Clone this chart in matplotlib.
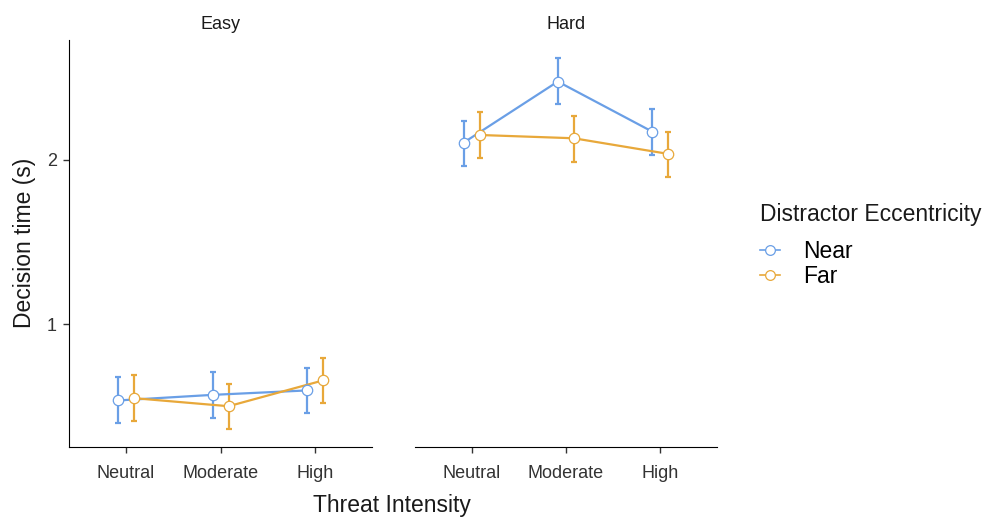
import matplotlib.pyplot as plt
from matplotlib.lines import Line2D
import numpy as np

plt.rcParams['font.family'] = ['Liberation Sans', 'DejaVu Sans']

# data
levels = ["Neutral", "Moderate", "High"]
panels = ["Easy", "Hard"]
groups = ["Near", "Far"]

easy_near = [0.537, 0.571, 0.598]
easy_near_lo = [0.398, 0.429, 0.459]
easy_near_hi = [0.679, 0.709, 0.736]
easy_far = [0.551, 0.502, 0.659]
easy_far_lo = [0.413, 0.362, 0.520]
easy_far_hi = [0.693, 0.638, 0.797]

hard_near = [2.105, 2.477, 2.173]
hard_near_lo = [1.963, 2.340, 2.030]
hard_near_hi = [2.240, 2.620, 2.309]
hard_far = [2.152, 2.132, 2.037]
hard_far_lo = [2.010, 1.990, 1.895]
hard_far_hi = [2.290, 2.268, 2.170]

colors = {"Near": "#6A9FE6", "Far": "#E8A83A"}
dodge = {"Near": -0.085, "Far": 0.085}

data = {
    "Easy": {"Near": (easy_near, easy_near_lo, easy_near_hi),
             "Far": (easy_far, easy_far_lo, easy_far_hi)},
    "Hard": {"Near": (hard_near, hard_near_lo, hard_near_hi),
             "Far": (hard_far, hard_far_lo, hard_far_hi)},
}

fig = plt.figure(figsize=(9.89, 5.19), dpi=100)
ax1 = fig.add_axes([0.0701, 0.1394, 0.3058, 0.7836])
ax2 = fig.add_axes([0.4196, 0.1394, 0.3050, 0.7836])

tick_col = "#333333"
txt_col = "#1a1a1a"
for ax, panel in zip([ax1, ax2], panels):
    x = np.arange(len(levels))
    for g in groups:
        m, lo, hi = data[panel][g]
        m = np.array(m)
        yerr = [m - np.array(lo), np.array(hi) - m]
        xs = x + dodge[g]
        ax.errorbar(xs, m, yerr=yerr, fmt="none", ecolor=colors[g],
                    elinewidth=1.6, capsize=2, capthick=1.6, zorder=2)
        ax.plot(xs, m, color=colors[g], lw=1.6, zorder=3)
        ax.plot(xs, m, "o", ms=7.5, mfc="white", mec=colors[g], mew=0.9, zorder=4)

    ax.set_xlim(-0.6, 2.6)
    ax.set_ylim(0.256, 2.73)
    ax.set_xticks(x)
    ax.set_xticklabels(levels, fontsize=13, color=tick_col)
    ax.spines['top'].set_visible(False)
    ax.spines['right'].set_visible(False)
    ax.tick_params(axis='x', length=4, width=1, color=tick_col, pad=9.5)
    ax.set_title(panel, fontsize=13, color=txt_col, pad=8)
    ax.set_facecolor("white")

ax1.set_yticks([1, 2])
ax1.set_yticklabels(["1", "2"], fontsize=13, color=tick_col)
ax1.tick_params(axis='y', length=4, width=1, color=tick_col, pad=5)
ax2.spines['left'].set_visible(False)
ax2.set_yticks([])

ax1.set_ylabel("Decision time (s)", fontsize=16.5, color=txt_col, labelpad=8)
fig.text(0.3964, 0.003, "Threat Intensity", fontsize=16.5, color=txt_col,
         ha="center", va="bottom")

handles = [Line2D([0], [0], color=colors[g], lw=1.2, marker="o", ms=7,
                  mfc="white", mec=colors[g], mew=0.9) for g in groups]
leg = fig.legend(handles, groups, loc="upper left", bbox_to_anchor=(0.752, 0.640),
                 frameon=False, title="Distractor Eccentricity", fontsize=16.5,
                 title_fontsize=16.5, handlelength=0.9, handletextpad=1.0,
                 labelspacing=0.1, alignment="left", borderpad=0.2)
leg.get_title().set_color(txt_col)
leg._legend_box.sep = 10

plt.savefig("out.png", dpi=100, facecolor="white")
plt.close()
